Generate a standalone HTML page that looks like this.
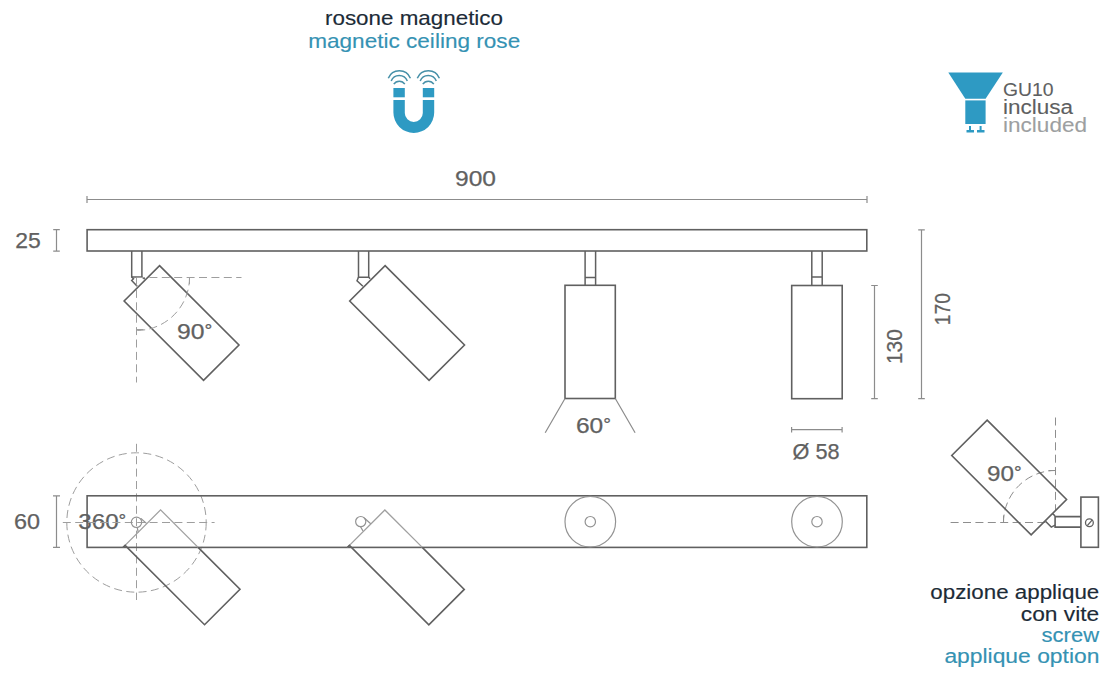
<!DOCTYPE html>
<html><head><meta charset="utf-8">
<style>
html,body{margin:0;padding:0;background:#fff;width:1116px;height:685px;overflow:hidden}
svg{display:block}
text{font-family:"Liberation Sans",sans-serif}
</style></head>
<body>
<svg width="1116" height="685" viewBox="0 0 1116 685">
<rect width="1116" height="685" fill="#fff"/>

<text x="325" y="24.5" font-size="21" fill="#1c2b37" stroke="#1c2b37" stroke-width="0.15" textLength="178" lengthAdjust="spacingAndGlyphs">rosone magnetico</text>
<text x="308.2" y="47.8" font-size="21" fill="#3592b3" stroke="#3592b3" stroke-width="0.15" textLength="212" lengthAdjust="spacingAndGlyphs">magnetic ceiling rose</text>
<g fill="#2e9ac3">
  <rect x="393.4" y="88" width="11.4" height="9.3"/>
  <rect x="422.8" y="88" width="11.4" height="9.3"/>
  <path d="M393.4 100 H404.8 V113 A9 9 0 0 0 422.8 113 V100 H434.2 V112.5 A20.4 20.4 0 0 1 393.4 112.5 Z"/>
</g>
<g fill="none" stroke="#4690a8" stroke-width="1.5" stroke-linecap="butt">
  <path d="M388.3 78.3 A11.9 11.9 0 0 1 410.4 78.3"/>
  <path d="M391.2 81.1 A8.6 8.6 0 0 1 407.3 81.1"/>
  <path d="M393.8 84.2 A6.5 6.5 0 0 1 404.8 84.2"/>
  <path d="M417.3 78.3 A11.9 11.9 0 0 1 439.4 78.3"/>
  <path d="M420.2 81.1 A8.6 8.6 0 0 1 436.3 81.1"/>
  <path d="M422.8 84.2 A6.5 6.5 0 0 1 433.8 84.2"/>
</g>
<g fill="#2e9ac3">
  <path d="M948.3 72.5 H1002.8 L985.6 98.8 H965.3 Z"/>
  <rect x="965.3" y="100.4" width="20.3" height="23.6"/>
  <rect x="969" y="126" width="2" height="5"/><rect x="966.5" y="130" width="7.5" height="2.5"/>
  <rect x="979.6" y="126" width="2" height="5"/><rect x="977" y="130" width="7.5" height="2.5"/>
</g>
<text x="1003" y="96.3" font-size="19" fill="#5e5f61" stroke="#5e5f61" stroke-width="0.1" textLength="50.5" lengthAdjust="spacingAndGlyphs">GU10</text>
<text x="1003" y="114.1" font-size="19.5" fill="#5e5f61" stroke="#5e5f61" stroke-width="0.1" textLength="70" lengthAdjust="spacingAndGlyphs">inclusa</text>
<text x="1003" y="132.4" font-size="19.5" fill="#9d9fa1" stroke="#9d9fa1" stroke-width="0.1" textLength="84" lengthAdjust="spacingAndGlyphs">included</text>
<path d="M87 199.5 H867 M87 196.1 V202.9 M867 196.1 V202.9 M56.5 229.6 V251.2 M53.2 229.6 H59.8 M53.2 251.2 H59.8 M874.5 285.5 V398.7 M871.2 285.5 H877.8 M871.2 398.7 H877.8 M921.5 229.8 V398.7 M918.2 229.8 H924.8 M918.2 398.7 H924.8 M791.6 429.7 H842.1 M791.6 426.9 V432.5 M842.1 426.9 V432.5 M56.5 495.9 V547.4 M53.0 495.9 H60.0 M53.0 547.4 H60.0" stroke="#8c8c8c" stroke-width="1.2" fill="none"/>
<g fill="#616161">
<text x="455" y="186" font-size="22" fill="#616161" stroke="#616161" stroke-width="0.25" textLength="41" lengthAdjust="spacingAndGlyphs">900</text>
<text x="15.2" y="247.9" font-size="21.5" fill="#616161" stroke="#616161" stroke-width="0.25" textLength="25.5" lengthAdjust="spacingAndGlyphs">25</text>
<text x="13.9" y="528.7" font-size="21.5" fill="#616161" stroke="#616161" stroke-width="0.25" textLength="26" lengthAdjust="spacingAndGlyphs">60</text>
<text x="78.3" y="528.7" font-size="21.5" fill="#616161" stroke="#616161" stroke-width="0.25" textLength="48" lengthAdjust="spacingAndGlyphs">360<tspan font-size="17" dy="-3">°</tspan></text>
<text x="575.9" y="432.7" font-size="21.5" fill="#616161" stroke="#616161" stroke-width="0.25" textLength="35" lengthAdjust="spacingAndGlyphs">60<tspan font-size="17" dy="-3">°</tspan></text>
<text x="177" y="338.6" font-size="21.5" fill="#616161" stroke="#616161" stroke-width="0.25" textLength="35.3" lengthAdjust="spacingAndGlyphs">90<tspan font-size="17" dy="-3">°</tspan></text>
<text x="987.1" y="480.6" font-size="21.5" fill="#616161" stroke="#616161" stroke-width="0.25" textLength="34.6" lengthAdjust="spacingAndGlyphs">90<tspan font-size="17" dy="-3">°</tspan></text>
<text x="792.5" y="458.9" font-size="21.5" fill="#616161" stroke="#616161" stroke-width="0.25" textLength="47" lengthAdjust="spacingAndGlyphs">Ø 58</text>
<text transform="translate(902,364) rotate(-90)" font-size="21.5" fill="#616161" stroke="#616161" stroke-width="0.25" textLength="34.8" lengthAdjust="spacingAndGlyphs">130</text>
<text transform="translate(949.7,325.2) rotate(-90)" font-size="21.5" fill="#616161" stroke="#616161" stroke-width="0.25" textLength="32" lengthAdjust="spacingAndGlyphs">170</text>
</g>
<g stroke="#606060" stroke-width="1.6" fill="none">
<rect x="87.1" y="229.7" width="779.7" height="21.3"/>
<path d="M159.56 265.58 L238.97 344.99 L203.54 380.42 L124.13 301.01 Z"/><path d="M385.11 265.58 L464.52 344.99 L429.09 380.42 L349.68 301.01 Z"/>
<rect x="565" y="285.3" width="50.3" height="113.2"/>
<rect x="791.7" y="285.5" width="50.5" height="113.2"/>
</g>
<g stroke="#606060" stroke-width="1.5" fill="none">
  <path d="M131.7 251 V277 H141.9 V251"/>
  <path d="M358.5 251 V277.2 H368.7 V251"/>
  <path d="M585.1 251 V285.3 M595.6 251 V285.3 M585.1 277.4 H595.6"/>
  <path d="M811.8 251 V285.5 M822.2 251 V285.5 M811.8 277 H822.2"/>
  <path d="M131.7 277 L133.5 278.7 L131.7 280.5 L137.2 286.3 M141.9 277 L144.8 279.2"/>
  <path d="M358.5 277.2 L357 280.8 L362.9 286.3 M368.7 277.2 L370.2 278.7"/>
</g>
<path d="M565 398.5 L545.2 432.7 M615.3 398.5 L635.1 432.7" stroke="#8c8c8c" stroke-width="1.2" fill="none"/>
<g stroke="#9e9e9e" stroke-width="1.0" fill="none" stroke-dasharray="8 4.4">
<path d="M137 277.5 H241.5"/>
<path d="M136.5 277.5 V382.5"/>
<path d="M189.5 277.5 A53 53 0 0 1 136.5 330.5"/>
</g>
<path d="M189.5 277.5 V284 M136.5 329.5 H143.5" stroke="#9e9e9e" stroke-width="1.0" fill="none"/>
<g stroke="#9e9e9e" stroke-width="1.0" fill="none" stroke-dasharray="8 4.4">
<circle cx="136.5" cy="522.5" r="69.7"/>
<path d="M136.5 443.8 V600"/>
<path d="M62.8 522.5 H214.6"/>
</g>
<rect x="87.1" y="495.8" width="779.7" height="51.6" stroke="#606060" stroke-width="1.6" fill="none"/>
<g stroke="#939393" stroke-width="1.2" fill="none">
  <circle cx="590.3" cy="521.7" r="25.3"/>
  <circle cx="590.3" cy="521.7" r="5.2"/>
  <circle cx="817" cy="521.7" r="25.3"/>
  <circle cx="817" cy="521.7" r="5.2"/>
  <circle cx="136.5" cy="522.3" r="5.2"/>
  <circle cx="360.73" cy="521.6" r="5.1"/>
  <path d="M140.6 518.2 L146.8 523.6 M137.2 527.5 L138.3 532.5 M364.3 518 L371 524 M360.5 526.6 L363 531"/>
</g>
<path d="M123.06 547.40 L160.58 509.88 L198.10 547.40" stroke="#a0a0a0" stroke-width="1.3" fill="none"/>
<path d="M123.06 547.40 L125.15 545.31 L204.56 624.72 L239.99 589.29 L198.10 547.40" stroke="#606060" stroke-width="1.6" fill="none"/>
<path d="M347.44 547.40 L384.86 509.98 L422.28 547.40" stroke="#a0a0a0" stroke-width="1.3" fill="none"/>
<path d="M347.44 547.40 L349.43 545.41 L428.84 624.82 L464.27 589.39 L422.28 547.40" stroke="#606060" stroke-width="1.6" fill="none"/>
<g stroke="#8e8e8e" stroke-width="1.0" fill="none" stroke-dasharray="8 4.4">
<path d="M950.6 522.5 H1047"/>
<path d="M1055.5 417.5 V510"/>
<path d="M1003.5 522.5 A52 52 0 0 1 1055.5 470.5"/>
</g>
<path d="M1003.5 522.5 V515.5 M1055.5 470.5 H1048.5" stroke="#8e8e8e" stroke-width="1.0" fill="none"/>
<g stroke="#606060" stroke-width="1.6" fill="none">
  <path d="M987.16 420.08 L1066.57 499.49 L1031.14 534.92 L951.73 455.51 Z"/>
  <rect x="1080.9" y="497.1" width="17.5" height="50.2"/>
  <path d="M1080.9 516.6 H1055.1 V527.1 H1080.9"/>
  <path d="M1052.5 513.7 L1055.1 515.8 M1045.5 521.3 L1051.3 527.1 L1055.1 525.2" stroke-width="1.5"/>
</g>
<g stroke="#606060" stroke-width="1.3" fill="none">
  <circle cx="1089.4" cy="522.7" r="3.9"/>
  <line x1="1087.3" y1="525.7" x2="1092.3" y2="519.8"/>
</g>
<text x="930.3" y="599" font-size="20" fill="#1c2b37" stroke="#1c2b37" stroke-width="0.15" textLength="169" lengthAdjust="spacingAndGlyphs">opzione applique</text>
<text x="1020.8" y="620.8" font-size="20" fill="#1c2b37" stroke="#1c2b37" stroke-width="0.15" textLength="78.5" lengthAdjust="spacingAndGlyphs">con vite</text>
<text x="1041.6" y="641.8" font-size="20" fill="#3592b3" stroke="#3592b3" stroke-width="0.15" textLength="57.5" lengthAdjust="spacingAndGlyphs">screw</text>
<text x="944.4" y="662.5" font-size="20" fill="#3592b3" stroke="#3592b3" stroke-width="0.15" textLength="155" lengthAdjust="spacingAndGlyphs">applique option</text>
</svg>
</body></html>
